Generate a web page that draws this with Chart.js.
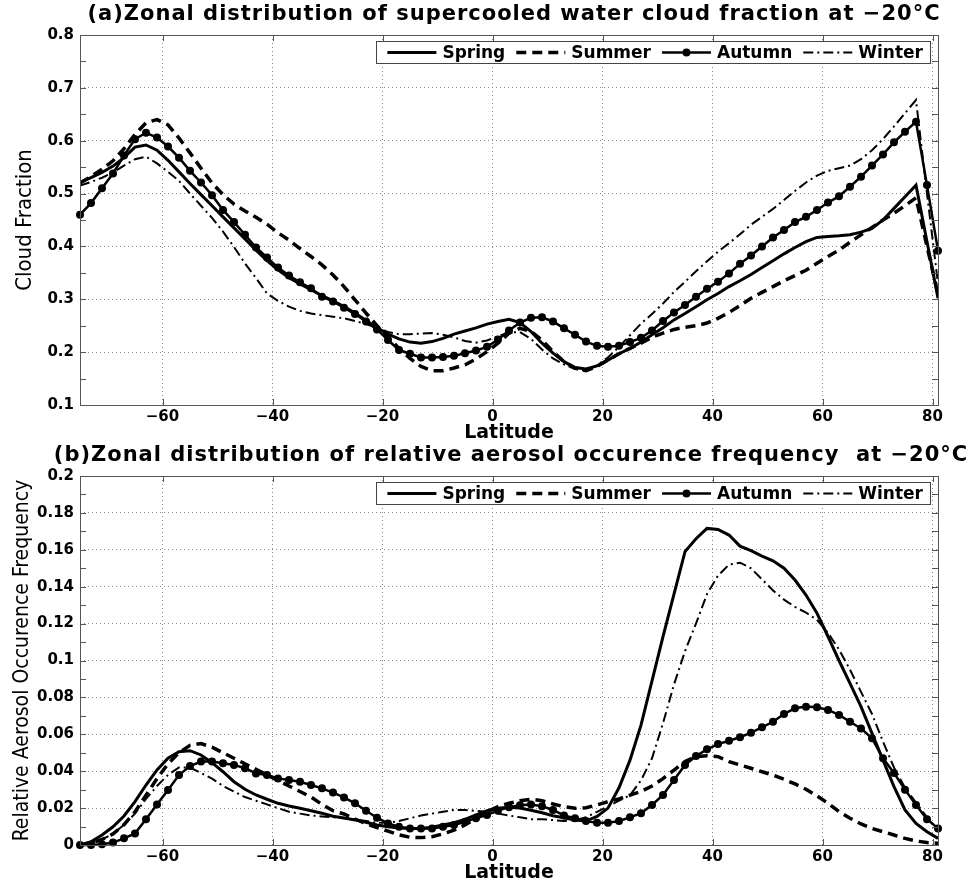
<!DOCTYPE html>
<html>
<head>
<meta charset="utf-8">
<script src="https://cdn.jsdelivr.net/npm/chart.js@4.4.0/dist/chart.umd.min.js"></script>
<style>
  body { margin: 0; background: #fff; width: 970px; height: 887px; overflow: hidden; position: relative; }
  .panel { position: absolute; left: 0; width: 970px; }
  #panelA { top: 0; height: 450px; }
  #panelB { top: 440px; height: 447px; }
</style>
</head>
<body>
<div class="panel" id="panelA"><canvas id="chartA"></canvas></div>
<div class="panel" id="panelB"><canvas id="chartB"></canvas></div>
<script>
// latitude grid, 2 degree steps
const lats = [
  -75, -73, -71, -69, -67, -65, -63, -61, -59, -57,
  -55, -53, -51, -49, -47, -45, -43, -41, -39, -37,
  -35, -33, -31, -29, -27, -25, -23, -21, -19, -17,
  -15, -13, -11, -9, -7, -5, -3, -1, 1, 3,
  5, 7, 9, 11, 13, 15, 17, 19, 21, 23,
  25, 27, 29, 31, 33, 35, 37, 39, 41, 43,
  45, 47, 49, 51, 53, 55, 57, 59, 61, 63,
  65, 67, 69, 71, 73, 75, 77, 79, 81
];
const seasons = ['Spring', 'Summer', 'Autumn', 'Winter'];
const xTicks = [-60, -40, -20, 0, 20, 40, 60, 80];
const yTicksA = [0.1, 0.2, 0.3, 0.4, 0.5, 0.6, 0.7, 0.8];
const yTickLabelsA = ['0.1', '0.2', '0.3', '0.4', '0.5', '0.6', '0.7', '0.8'];
const yTicksB = [0, 0.02, 0.04, 0.06, 0.08, 0.1, 0.12, 0.14, 0.16, 0.18, 0.2];
const yTickLabelsB = ['0', '0.02', '0.04', '0.06', '0.08', '0.1', '0.12', '0.14', '0.16', '0.18', '0.2'];

// (a) supercooled water cloud fraction
const springA = [
  0.521, 0.530, 0.540, 0.552, 0.568, 0.588, 0.592, 0.582, 0.563, 0.541,
  0.519, 0.498, 0.477, 0.456, 0.435, 0.414, 0.393, 0.373, 0.356, 0.341,
  0.329, 0.318, 0.307, 0.297, 0.286, 0.274, 0.260, 0.246, 0.234, 0.225,
  0.219, 0.217, 0.220, 0.226, 0.234, 0.240, 0.246, 0.253, 0.258, 0.262,
  0.256, 0.239, 0.217, 0.198, 0.182, 0.171, 0.168, 0.174, 0.185, 0.197,
  0.207, 0.219, 0.233, 0.246, 0.261, 0.273, 0.286, 0.299, 0.311, 0.324,
  0.335, 0.347, 0.360, 0.373, 0.386, 0.398, 0.409, 0.417, 0.419, 0.420,
  0.422, 0.427, 0.434, 0.450, 0.472, 0.494, 0.516, 0.409, 0.302
];
const summerA = [
  0.520, 0.532, 0.546, 0.562, 0.585, 0.612, 0.634, 0.640, 0.630, 0.605,
  0.577, 0.548, 0.520, 0.498, 0.480, 0.467, 0.455, 0.442, 0.426, 0.412,
  0.396, 0.381, 0.365, 0.346, 0.324, 0.299, 0.274, 0.250, 0.229, 0.207,
  0.188, 0.173, 0.165, 0.165, 0.170, 0.176, 0.187, 0.201, 0.217, 0.236,
  0.245, 0.239, 0.223, 0.201, 0.182, 0.170, 0.165, 0.173, 0.185, 0.197,
  0.207, 0.217, 0.228, 0.236, 0.243, 0.247, 0.250, 0.255, 0.264, 0.275,
  0.288, 0.302, 0.313, 0.324, 0.335, 0.345, 0.355, 0.368, 0.381, 0.393,
  0.408, 0.422, 0.436, 0.450, 0.463, 0.477, 0.492, 0.400, 0.310
];
const autumnA = [
  0.460, 0.482, 0.510, 0.538, 0.572, 0.603, 0.615, 0.606, 0.589, 0.568,
  0.543, 0.521, 0.497, 0.469, 0.446, 0.422, 0.398, 0.379, 0.360, 0.345,
  0.332, 0.321, 0.305, 0.296, 0.284, 0.272, 0.258, 0.243, 0.223, 0.204,
  0.197, 0.190, 0.190, 0.191, 0.193, 0.198, 0.203, 0.210, 0.224, 0.241,
  0.256, 0.265, 0.266, 0.258, 0.245, 0.233, 0.220, 0.212, 0.210, 0.212,
  0.219, 0.227, 0.241, 0.259, 0.275, 0.289, 0.305, 0.320, 0.333, 0.349,
  0.367, 0.383, 0.400, 0.417, 0.431, 0.446, 0.456, 0.469, 0.483, 0.495,
  0.513, 0.532, 0.553, 0.574, 0.597, 0.617, 0.636, 0.516, 0.392
];
const winterA = [
  0.515, 0.522, 0.530, 0.540, 0.553, 0.565, 0.570, 0.557, 0.541, 0.524,
  0.500, 0.477, 0.454, 0.428, 0.399, 0.368, 0.340, 0.311, 0.297, 0.286,
  0.278, 0.273, 0.270, 0.267, 0.264, 0.259, 0.253, 0.246, 0.238, 0.234,
  0.234, 0.235, 0.236, 0.233, 0.228, 0.221, 0.218, 0.222, 0.230, 0.237,
  0.238, 0.225, 0.205, 0.188, 0.177, 0.168, 0.165, 0.175, 0.190, 0.210,
  0.232, 0.254, 0.272, 0.292, 0.314, 0.333, 0.353, 0.372, 0.390, 0.406,
  0.423, 0.441, 0.456, 0.471, 0.488, 0.505, 0.521, 0.534, 0.543, 0.548,
  0.553, 0.565, 0.582, 0.603, 0.627, 0.652, 0.677, 0.500, 0.330
];

// (b) relative aerosol occurence frequency
const springB = [
  0, 0.0018, 0.0054, 0.0099, 0.0157, 0.0235, 0.0325, 0.0407, 0.0470, 0.0506,
  0.0511, 0.0488, 0.0446, 0.0397, 0.0343, 0.0302, 0.0271, 0.0248, 0.0226, 0.0211,
  0.0199, 0.0186, 0.0172, 0.0156, 0.0146, 0.0136, 0.0123, 0.0108, 0.0099, 0.0092,
  0.0089, 0.0090, 0.0096, 0.0108, 0.0121, 0.0139, 0.0163, 0.0186, 0.0199, 0.0205,
  0.0200, 0.0188, 0.0175, 0.0159, 0.0148, 0.0135, 0.0130, 0.0155, 0.0200, 0.0310,
  0.0460, 0.0650, 0.0890, 0.113, 0.136, 0.159, 0.166, 0.1716, 0.1710, 0.168,
  0.162, 0.1595, 0.1566, 0.154, 0.150, 0.1436, 0.1355, 0.1256, 0.113, 0.100,
  0.0876, 0.075, 0.0605, 0.046, 0.0316, 0.019, 0.0117, 0.0072, 0.0036
];
const summerB = [
  0, 0.001, 0.003, 0.006, 0.011, 0.018, 0.027, 0.036, 0.044, 0.050,
  0.054, 0.055, 0.053, 0.050, 0.047, 0.044, 0.041, 0.038, 0.035, 0.032,
  0.029, 0.026, 0.022, 0.0186, 0.0168, 0.0141, 0.0115, 0.0095, 0.0075, 0.0055,
  0.0042, 0.0040, 0.0045, 0.0060, 0.0081, 0.0108, 0.0145, 0.0181, 0.0208, 0.0226,
  0.0240, 0.0248, 0.0240, 0.0222, 0.0208, 0.0199, 0.0202, 0.0217, 0.0235, 0.0250,
  0.027, 0.029, 0.032, 0.036, 0.0406, 0.0452, 0.0479, 0.0484, 0.0479, 0.0452,
  0.0434, 0.0416, 0.0397, 0.0379, 0.0356, 0.0331, 0.0302, 0.0266, 0.0226, 0.0181,
  0.0145, 0.0114, 0.0090, 0.0072, 0.0054, 0.0036, 0.0022, 0.0013, 0.0009
];
const autumnB = [
  0, 0, 0.0004, 0.0013, 0.0036, 0.0063, 0.0139, 0.0220, 0.0298, 0.0379,
  0.0428, 0.0452, 0.0452, 0.0443, 0.0434, 0.0416, 0.0388, 0.0379, 0.0361, 0.0352,
  0.0343, 0.0325, 0.0307, 0.0284, 0.0258, 0.0226, 0.0186, 0.0148, 0.0117, 0.0099,
  0.0090, 0.0090, 0.0090, 0.0099, 0.0108, 0.0126, 0.0145, 0.0163, 0.0186, 0.0205,
  0.0215, 0.0220, 0.0210, 0.0190, 0.0160, 0.0145, 0.0130, 0.0120, 0.0120, 0.0130,
  0.0150, 0.0172, 0.0217, 0.0271, 0.0352, 0.0434, 0.0482, 0.0519, 0.0547, 0.0565,
  0.0584, 0.0609, 0.0638, 0.0668, 0.0710, 0.0741, 0.0750, 0.0746, 0.0732, 0.0705,
  0.0668, 0.0632, 0.0578, 0.047, 0.039, 0.030, 0.0217, 0.0140, 0.009
];
const winterB = [
  0, 0.001, 0.003, 0.006, 0.011, 0.017, 0.025, 0.032, 0.038, 0.042,
  0.042, 0.039, 0.036, 0.032, 0.029, 0.026, 0.024, 0.022, 0.020, 0.018,
  0.017, 0.016, 0.0155, 0.015, 0.0145, 0.014, 0.013, 0.012, 0.012, 0.013,
  0.0145, 0.016, 0.017, 0.018, 0.019, 0.019, 0.0185, 0.018, 0.017, 0.016,
  0.015, 0.014, 0.014, 0.0135, 0.013, 0.0135, 0.015, 0.018, 0.021, 0.024,
  0.027, 0.035, 0.047, 0.066, 0.087, 0.105, 0.120, 0.136, 0.146, 0.152,
  0.153, 0.150, 0.144, 0.138, 0.133, 0.129, 0.126, 0.122, 0.115, 0.106,
  0.095, 0.083, 0.071, 0.056, 0.042, 0.031, 0.023, 0.015, 0.008
];

const tickFont = { family: 'DejaVu Sans', size: 15, weight: 'bold' };
const narrowFont = "'Liberation Sans Narrow', 'DejaVu Sans Condensed', sans-serif";

// panel title drawn over the plot area centre
const panelTitle = {
  id: 'panelTitle',
  afterDraw(chart, args, opts) {
    const { ctx, chartArea } = chart;
    ctx.save();
    ctx.font = opts.font;
    if ('letterSpacing' in ctx) ctx.letterSpacing = opts.spacing || '0px';
    ctx.fillStyle = '#000';
    ctx.textAlign = 'center';
    ctx.textBaseline = 'middle';
    ctx.fillText(opts.text, (chartArea.left + chartArea.right) / 2 + opts.dx, opts.y);
    ctx.restore();
  }
};

// matlab style box with inward ticks on all four sides
const boxTicks = {
  id: 'boxTicks',
  afterDatasetsDraw(chart, args, opts) {
    const { ctx, chartArea: a, scales: { x, y } } = chart;
    ctx.save();
    ctx.strokeStyle = '#555';
    ctx.lineWidth = 1;
    ctx.strokeRect(a.left + 0.5, a.top + 0.5, a.right - a.left, a.bottom - a.top);
    ctx.beginPath();
    x.ticks.forEach(t => {
      const px = Math.round(x.getPixelForValue(t.value)) + 0.5;
      ctx.moveTo(px, a.top); ctx.lineTo(px, a.top + 6);
      ctx.moveTo(px, a.bottom); ctx.lineTo(px, a.bottom - 6);
    });
    for (let v = y.min; v <= y.max + 1e-9; v += opts.minor) {
      const py = Math.round(y.getPixelForValue(v)) + 0.5;
      ctx.moveTo(a.left, py); ctx.lineTo(a.left + 6, py);
      ctx.moveTo(a.right, py); ctx.lineTo(a.right - 6, py);
    }
    ctx.stroke();
    ctx.restore();
  }
};

// legend box inside the top right of the plot
const seasonLegend = {
  id: 'seasonLegend',
  afterDraw(chart) {
    const { ctx, chartArea: a } = chart;
    const sets = chart.data.datasets;
    const lineLen = 49, gap = 6, pad = 11, h = 22;
    ctx.save();
    ctx.font = 'bold 17px "DejaVu Sans"';
    const widths = sets.map(d => ctx.measureText(d.label).width);
    const total = pad + sets.length * (lineLen + gap) + widths.reduce((s, w) => s + w, 0) + (sets.length - 1) * pad + 7;
    const right = a.right - 8, top = a.top + 6;
    const left = right - total;
    ctx.fillStyle = '#fff';
    ctx.fillRect(left, top, total, h);
    ctx.strokeStyle = '#444';
    ctx.lineWidth = 1;
    ctx.strokeRect(Math.round(left) + 0.5, top + 0.5, Math.round(total), h);
    let xPos = left + pad;
    const cy = top + h / 2 + 0.5;
    sets.forEach((d, i) => {
      ctx.beginPath();
      ctx.setLineDash(d.borderDash || []);
      ctx.lineWidth = d.borderWidth;
      ctx.strokeStyle = '#000';
      ctx.moveTo(xPos, cy);
      ctx.lineTo(xPos + lineLen, cy);
      ctx.stroke();
      ctx.setLineDash([]);
      if (d.pointRadius) {
        ctx.beginPath();
        ctx.arc(xPos + lineLen / 2, cy, d.pointRadius, 0, Math.PI * 2);
        ctx.fillStyle = '#000';
        ctx.fill();
      }
      xPos += lineLen + gap;
      ctx.fillStyle = '#000';
      ctx.textBaseline = 'middle';
      ctx.fillText(d.label, xPos, cy + 1);
      xPos += widths[i] + pad;
    });
    ctx.restore();
  }
};

function seasonSets(spring, summer, autumn, winter) {
  const pts = arr => lats.map((lat, i) => ({ x: lat, y: arr[i] }));
  return [
    { label: seasons[0], data: pts(spring), borderColor: '#000', borderWidth: 3, pointRadius: 0 },
    { label: seasons[1], data: pts(summer), borderColor: '#000', borderWidth: 3.5, borderDash: [10, 6], pointRadius: 0 },
    { label: seasons[2], data: pts(autumn), borderColor: '#000', borderWidth: 2.5, pointRadius: 4,
      pointBackgroundColor: '#000', pointBorderWidth: 0, clip: false },
    { label: seasons[3], data: pts(winter), borderColor: '#000', borderWidth: 2, borderDash: [10, 4, 2, 4], pointRadius: 0 }
  ];
}

function makePanel(canvasId, cfg) {
  return new Chart(document.getElementById(canvasId), {
    type: 'line',
    data: { datasets: cfg.datasets },
    options: {
      responsive: true,
      maintainAspectRatio: false,
      animation: false,
      layout: { padding: { left: 0, right: 32, top: cfg.top, bottom: 0 } },
      elements: { line: { tension: 0 } },
      plugins: {
        legend: { display: false },
        tooltip: { enabled: false },
        panelTitle: cfg.title,
        boxTicks: { minor: cfg.minor }
      },
      scales: {
        x: {
          type: 'linear', min: -75, max: 81,
          afterBuildTicks: s => { s.ticks = xTicks.map(v => ({ value: v })); },
          afterFit: s => { s.height = cfg.xHeight; },
          grid: { color: '#888', lineWidth: 1, drawTicks: false },
          border: { display: false, dash: [1, 3] },
          ticks: { font: tickFont, color: '#000', padding: 3, maxRotation: 0,
            callback: v => String(v).replace('-', '\u2212') },
          title: { display: true, text: 'Latitude', color: '#000',
            font: { family: 'DejaVu Sans', size: 19, weight: 'bold', lineHeight: 1.2 },
            padding: { top: 0, bottom: cfg.xTitlePad } }
        },
        y: {
          type: 'linear', min: cfg.yTicks[0], max: cfg.yTicks[cfg.yTicks.length - 1],
          afterBuildTicks: s => { s.ticks = cfg.yTicks.map(v => ({ value: v })); },
          afterFit: s => { s.width = 80; },
          grid: { color: '#888', lineWidth: 1, drawTicks: false },
          border: { display: false, dash: [1, 3] },
          ticks: { font: tickFont, color: '#000', padding: 6,
            callback: (v, i) => cfg.yLabels[i] },
          title: { display: true, text: cfg.yTitle, color: '#000',
            font: { family: narrowFont, size: cfg.yTitleSize, weight: 'normal', lineHeight: 1.2 },
            padding: { top: cfg.yTitlePad, bottom: 0 } }
        }
      }
    },
    plugins: [boxTicks, seasonLegend, panelTitle]
  });
}

makePanel('chartA', {
  datasets: seasonSets(springA, summerA, autumnA, winterA),
  top: 35, xHeight: 45, xTitlePad: 5.5, minor: 0.05,
  yTicks: yTicksA, yLabels: yTickLabelsA,
  yTitle: 'Cloud Fraction', yTitleSize: 22, yTitlePad: 12,
  title: { text: '(a)Zonal distribution of supercooled water cloud fraction at \u221220\u00b0C',
    font: 'bold 21px "DejaVu Sans"', spacing: '1px', dx: 5, y: 15 }
});

makePanel('chartB', {
  datasets: seasonSets(springB, summerB, autumnB, winterB),
  top: 36, xHeight: 42, xTitlePad: 2.5, minor: 0.01,
  yTicks: yTicksB, yLabels: yTickLabelsB,
  yTitle: 'Relative Aerosol Occurence Frequency', yTitleSize: 21, yTitlePad: 10,
  title: { text: '(b)Zonal distribution of relative aerosol occurence frequency  at \u221220\u00b0C',
    font: 'bold 21px "DejaVu Sans"', spacing: '1px', dx: 2, y: 16 }
});
</script>
</body>
</html>
